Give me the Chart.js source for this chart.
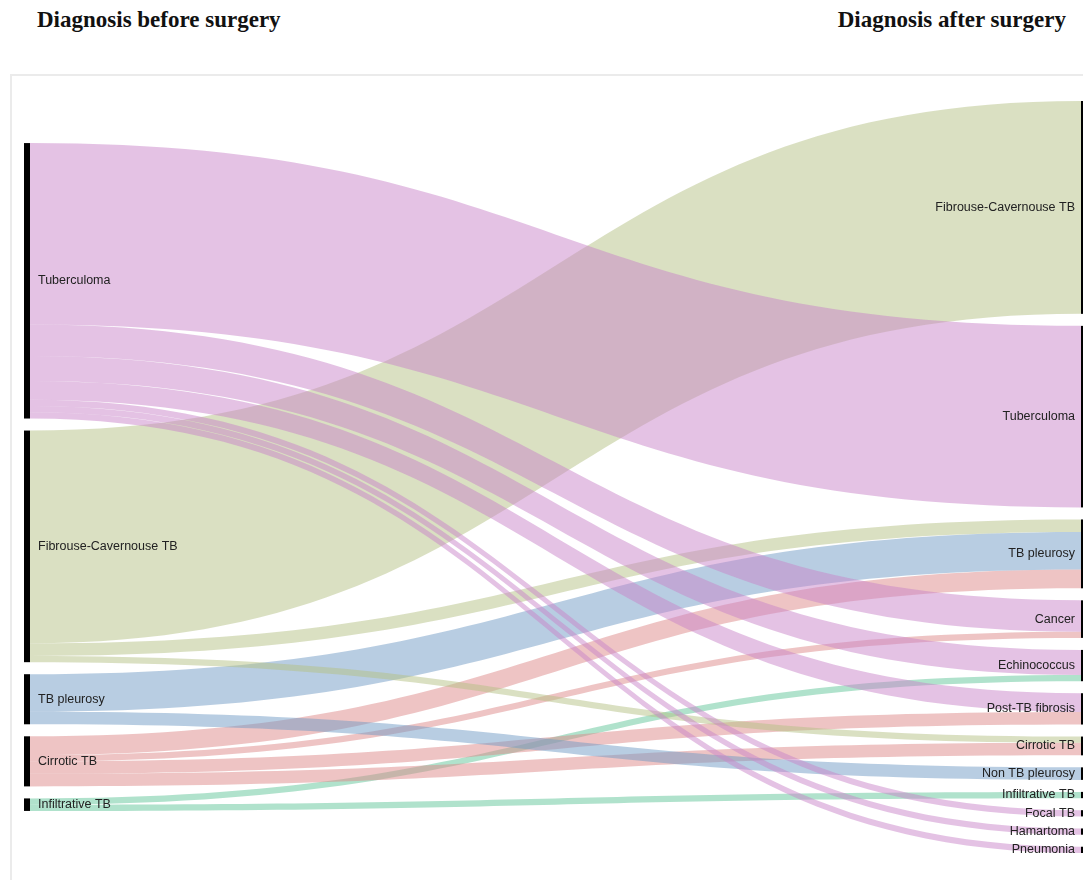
<!DOCTYPE html>
<html>
<head>
<meta charset="utf-8">
<script src="https://cdn.jsdelivr.net/npm/chart.js@4/dist/chart.umd.min.js"></script>
<style>
  html, body { margin: 0; padding: 0; background: #fff; }
  body { width: 1083px; height: 880px; position: relative; overflow: hidden; }
  .title { position: absolute; top: 8px; font-family: "Liberation Serif", serif; font-weight: bold; font-size: 23px; line-height: 23px; color: #111; white-space: nowrap; }
  #frame { position: absolute; left: 10px; top: 74px; width: 1100px; height: 900px; border-top: 2px solid #ebebeb; border-left: 2px solid #ebebeb; }
  #sankeyChart { position: absolute; left: 0; top: 0; }
</style>
</head>
<body>
<div class="title" style="left:37px">Diagnosis before surgery</div>
<div class="title" style="right:17px">Diagnosis after surgery</div>
<div id="frame"></div>
<canvas id="sankeyChart" width="1083" height="880"></canvas>
<script>
// nodes, top to bottom
const beforeNodes = ['Tuberculoma', 'Fibrouse-Cavernouse TB', 'TB pleurosy', 'Cirrotic TB', 'Infiltrative TB'];
const afterNodes = ['Fibrouse-Cavernouse TB', 'Tuberculoma', 'TB pleurosy', 'Cancer', 'Echinococcus', 'Post-TB fibrosis',
	'Cirrotic TB', 'Non TB pleurosy', 'Infiltrative TB', 'Focal TB', 'Hamartoma', 'Pneumonia'];

// flows: before -> after, number of patients
const flowFrom = ['Tuberculoma', 'Tuberculoma', 'Tuberculoma', 'Tuberculoma', 'Tuberculoma', 'Tuberculoma', 'Tuberculoma',
	'Fibrouse-Cavernouse TB', 'Fibrouse-Cavernouse TB', 'Fibrouse-Cavernouse TB',
	'TB pleurosy', 'TB pleurosy',
	'Cirrotic TB', 'Cirrotic TB', 'Cirrotic TB', 'Cirrotic TB',
	'Infiltrative TB', 'Infiltrative TB'];
const flowTo = ['Tuberculoma', 'Cancer', 'Echinococcus', 'Post-TB fibrosis', 'Focal TB', 'Hamartoma', 'Pneumonia',
	'Fibrouse-Cavernouse TB', 'TB pleurosy', 'Cirrotic TB',
	'TB pleurosy', 'Non TB pleurosy',
	'TB pleurosy', 'Cancer', 'Post-TB fibrosis', 'Cirrotic TB',
	'Echinococcus', 'Infiltrative TB'];
const flowCount = [29, 5, 4, 3, 1, 1, 1,
	34, 2, 1,
	6, 2,
	3, 1, 2, 2,
	1, 1];

// link colour follows the "before" node
const linkColors = ['rgba(201,133,201,0.5)', 'rgba(181,193,133,0.5)', 'rgba(113,155,197,0.5)', 'rgba(221,137,137,0.5)', 'rgba(97,197,153,0.5)'];

const NODE_GAP = 1.92; // gap between nodes (patients)
const NODE_WIDTH = 6; // px

// node sizes
const sumBy = (key, name) => flowCount.reduce((s, v, i) => s + (key[i] === name ? v : 0), 0);
const beforeSize = beforeNodes.map(n => sumBy(flowFrom, n));
const afterSize = afterNodes.map(n => sumBy(flowTo, n));

const spanOf = sizes => sizes.reduce((a, b) => a + b, 0) + (sizes.length - 1) * NODE_GAP;
const yMax = Math.max(spanOf(beforeSize), spanOf(afterSize));

// stack one column, centred
function stack(sizes) {
	let cursor = (yMax - spanOf(sizes)) / 2;
	return sizes.map(size => {
		const node = { y0: cursor, y1: cursor + size };
		cursor += size + NODE_GAP;
		return node;
	});
}
const beforeLayout = stack(beforeSize);
const afterLayout = stack(afterSize);

// link offsets at both ends
const links = flowCount.map((v, i) => ({
	s: beforeNodes.indexOf(flowFrom[i]),
	t: afterNodes.indexOf(flowTo[i]),
	v: v
}));
beforeNodes.forEach((n, si) => {
	let y = beforeLayout[si].y0;
	links.filter(l => l.s === si).sort((a, b) => a.t - b.t).forEach(l => { l.sy0 = y; y += l.v; l.sy1 = y; });
});
afterNodes.forEach((n, ti) => {
	let y = afterLayout[ti].y0;
	links.filter(l => l.t === ti).sort((a, b) => a.s - b.s).forEach(l => { l.ty0 = y; y += l.v; l.ty1 = y; });
});

const sankeyPlugin = {
	id: 'sankey',
	afterDatasetsDraw(chart) {
		const ctx = chart.ctx;
		const xs = chart.scales.x;
		const ys = chart.scales.y;
		const xLeft = xs.getPixelForValue(0);
		const xRight = xs.getPixelForValue(1);
		const x0 = xLeft + NODE_WIDTH;
		const x1 = xRight;
		const xm = (x0 + x1) / 2;

		ctx.save();
		// links (bottom source first, so Tuberculoma ends up on top)
		links.slice().reverse().forEach(l => {
			const a0 = ys.getPixelForValue(l.sy0), a1 = ys.getPixelForValue(l.sy1);
			const b0 = ys.getPixelForValue(l.ty0), b1 = ys.getPixelForValue(l.ty1);
			ctx.beginPath();
			ctx.moveTo(x0, a0);
			ctx.bezierCurveTo(xm, a0, xm, b0, x1, b0);
			ctx.lineTo(x1, b1);
			ctx.bezierCurveTo(xm, b1, xm, a1, x0, a1);
			ctx.closePath();
			ctx.fillStyle = linkColors[l.s];
			ctx.fill();
		});

		// nodes
		ctx.fillStyle = '#000';
		beforeLayout.forEach(n => {
			const top = ys.getPixelForValue(n.y0);
			ctx.fillRect(xLeft, top, NODE_WIDTH, ys.getPixelForValue(n.y1) - top);
		});
		afterLayout.forEach(n => {
			const top = ys.getPixelForValue(n.y0);
			ctx.fillRect(xRight, top, NODE_WIDTH, ys.getPixelForValue(n.y1) - top);
		});

		// labels
		ctx.font = '12.5px "Liberation Sans", Arial, sans-serif';
		ctx.fillStyle = '#222';
		ctx.textBaseline = 'middle';
		ctx.textAlign = 'left';
		beforeLayout.forEach((n, i) => {
			ctx.fillText(beforeNodes[i], x0 + 8, ys.getPixelForValue((n.y0 + n.y1) / 2));
		});
		ctx.textAlign = 'right';
		afterLayout.forEach((n, i) => {
			ctx.fillText(afterNodes[i], xRight - 6, ys.getPixelForValue((n.y0 + n.y1) / 2));
		});
		ctx.restore();
	}
};

const sankeyCtx = document.getElementById('sankeyChart').getContext('2d');
new Chart(sankeyCtx, {
	type: 'scatter',
	data: { datasets: [{ data: [] }] },
	options: {
		responsive: false,
		animation: false,
		events: [],
		layout: {
			padding: { left: 24, right: 2, top: 101, bottom: 27 }
		},
		scales: {
			x: { type: 'linear', min: 0, max: 1, display: false },
			y: { type: 'linear', min: 0, max: yMax, reverse: true, display: false }
		},
		plugins: {
			legend: { display: false },
			tooltip: { enabled: false }
		}
	},
	plugins: [sankeyPlugin]
});
</script>
</body>
</html>
